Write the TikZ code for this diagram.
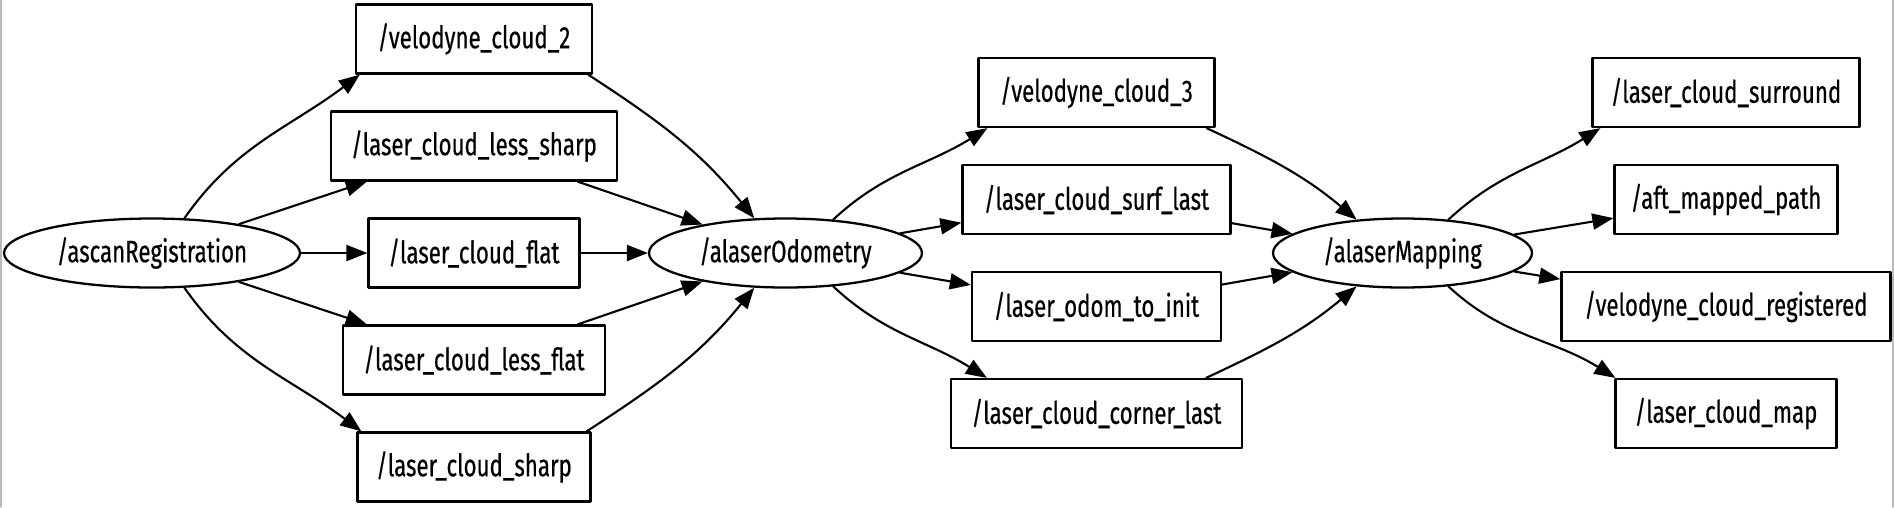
\documentclass[tikz,border=0pt]{standalone}
\usepackage{fontspec}
\setmainfont{Fira Sans}[FakeStretch=0.72,FakeBold=0.5]
\usetikzlibrary{shapes.geometric,arrows.meta}

\begin{document}
\begin{tikzpicture}[
    line cap=round,
    line join=round,
    topic/.style={
        draw,
        rectangle,
        line width=0.65pt,
        minimum height=0.69cm,
        inner sep=0pt,
        font=\fontsize{8.8}{10}\selectfont
    },
    rosnode/.style={
        draw,
        ellipse,
        line width=0.65pt,
        minimum height=0.69cm,
        inner sep=0pt,
        font=\fontsize{8.8}{10}\selectfont
    },
    edge/.style={
        line width=0.6pt,
        -{Triangle[length=0.21cm,width=0.16cm]}
    },
    sideline/.style={
        line width=0.5pt,
        draw={rgb,255:red,185;green,185;blue,185}
    }
]

% -------------------------------------------------
% Layout parameters
% -------------------------------------------------

\def\xR{1.52}     % /ascanRegistration
\def\xT{4.74}     % first column of topics
\def\xO{7.855}    % /alaserOdometry
\def\xU{10.965}   % second column of topics
\def\xM{14.025}   % /alaserMapping
\def\xV{17.26}    % third column of topics
\def\yMid{2.54}   % middle row

\useasboundingbox (0,0) rectangle (18.94,5.07);

% thin grey edges of the canvas
\draw[sideline] (0.01,0) -- (0.01,5.07);
\draw[sideline] (18.93,0) -- (18.93,5.07);

% -------------------------------------------------
% Nodes
% -------------------------------------------------

\node[rosnode, minimum width=2.96cm] (reg)  at (\xR,\yMid) {/ascanRegistration};
\node[rosnode, minimum width=2.73cm] (odom) at (\xO,\yMid) {/alaserOdometry};
\node[rosnode, minimum width=2.59cm] (map)  at (\xM,\yMid) {/alaserMapping};

% topics between registration and odometry
\node[topic, minimum width=2.36cm] (vc2)    at (\xT,4.68)  {/velodyne\_cloud\_2};
\node[topic, minimum width=2.86cm] (lsharp) at (\xT,3.61)  {/laser\_cloud\_less\_sharp};
\node[topic, minimum width=2.11cm] (flat)   at (\xT,\yMid) {/laser\_cloud\_flat};
\node[topic, minimum width=2.62cm] (lflat)  at (\xT,1.47)  {/laser\_cloud\_less\_flat};
\node[topic, minimum width=2.33cm] (sharp)  at (\xT,0.40)  {/laser\_cloud\_sharp};

% topics between odometry and mapping
\node[topic, minimum width=2.36cm] (vc3)    at (\xU,4.145) {/velodyne\_cloud\_3};
\node[topic, minimum width=2.68cm] (surf)   at (\xU,3.075) {/laser\_cloud\_surf\_last};
\node[topic, minimum width=2.49cm] (init)   at (\xU,2.005) {/laser\_odom\_to\_init};
\node[topic, minimum width=2.91cm] (corner) at (\xU,0.935) {/laser\_cloud\_corner\_last};

% topics published by mapping
\node[topic, minimum width=2.67cm] (surround)   at (\xV,4.145) {/laser\_cloud\_surround};
\node[topic, minimum width=2.23cm] (aft)        at (\xV,3.075) {/aft\_mapped\_path};
\node[topic, minimum width=3.29cm] (registered) at (\xV,2.005) {/velodyne\_cloud\_registered};
\node[topic, minimum width=2.21cm] (cloudmap)   at (\xV,0.935) {/laser\_cloud\_map};

% -------------------------------------------------
% Registration -> topics
% -------------------------------------------------

\draw[edge] (reg.47) to[out=55,in=217] ([xshift=.05cm]vc2.south west);
\draw[edge] (reg) -- (lsharp);
\draw[edge] (reg) -- (flat);
\draw[edge] (reg) -- (lflat);
\draw[edge] (reg.-47) to[out=-55,in=143] ([xshift=.05cm]sharp.north west);

% -------------------------------------------------
% Topics -> odometry
% -------------------------------------------------

\draw[edge] ([xshift=-.05cm]vc2.south east) to[out=-33,in=129] (odom.132);
\draw[edge] (lsharp) -- (odom);
\draw[edge] (flat) -- (odom);
\draw[edge] (lflat) -- (odom);
\draw[edge] ([xshift=-.05cm]sharp.north east) to[out=33,in=-129] (odom.-132);

% -------------------------------------------------
% Odometry -> topics
% -------------------------------------------------

\draw[edge] (odom.35) to[out=43,in=212] ([xshift=.10cm]vc3.south west);
\draw[edge] (odom) -- (surf);
\draw[edge] (odom) -- (init);
\draw[edge] (odom.-35) to[out=-43,in=148] ([xshift=.37cm]corner.north west);

% -------------------------------------------------
% Topics -> mapping
% -------------------------------------------------

\draw[edge] ([xshift=-.09cm]vc3.south east) to[out=-25,in=140] (map.144);
\draw[edge] (surf) -- (map);
\draw[edge] (init) -- (map);
\draw[edge] ([xshift=-.37cm]corner.north east) to[out=25,in=-140] (map.-144);

% -------------------------------------------------
% Mapping -> topics
% -------------------------------------------------

\draw[edge] (map.36) to[out=43,in=212] ([xshift=.09cm]surround.south west);
\draw[edge] (map) -- (aft);
\draw[edge] (map) -- (registered);
\draw[edge] (map.-36) to[out=-43,in=148] ([xshift=.01cm]cloudmap.north west);

\end{tikzpicture}
\end{document}
